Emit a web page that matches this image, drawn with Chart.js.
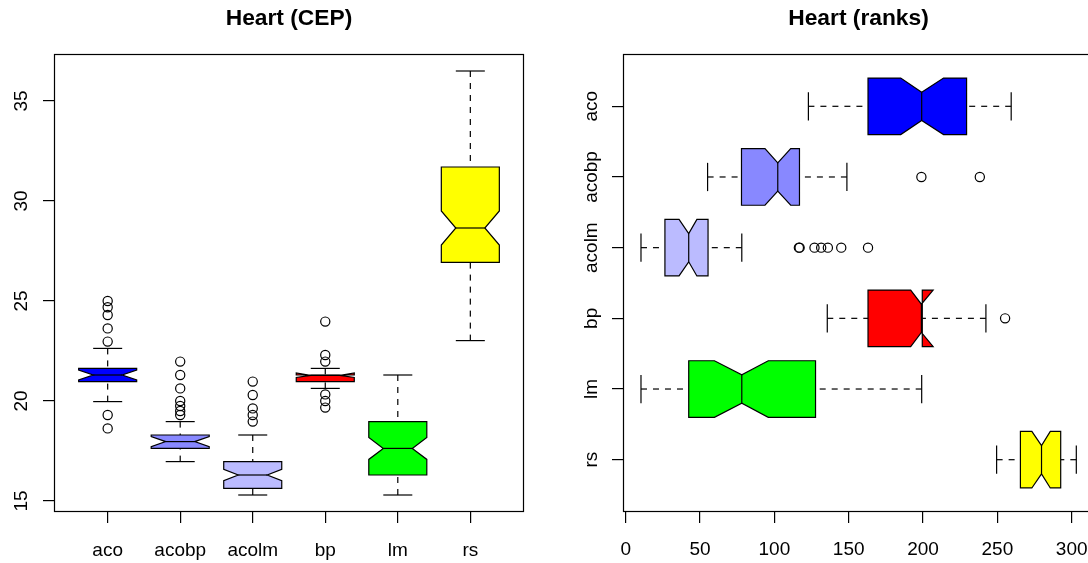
<!DOCTYPE html>
<html>
<head>
<meta charset="utf-8">
<script src="https://cdn.jsdelivr.net/npm/chart.js@4/dist/chart.umd.min.js"></script>
<style>
  html, body { margin: 0; padding: 0; background: #fff; overflow: hidden; width: 1088px; height: 563px; }
  canvas { position: absolute; top: 0; }
  #cep { left: 0; }
  #ranks { left: 544px; }
</style>
</head>
<body>
<canvas id="cep" width="544" height="563"></canvas>
<canvas id="ranks" width="570" height="563"></canvas>
<script>
const methods = ['aco', 'acobp', 'acolm', 'bp', 'lm', 'rs'];
const fills = ['#0000ff', '#8888ff', '#bbbbff', '#ff0000', '#00ff00', '#ffff00'];

// Heart (CEP): whisker ends, hinges, median and notch limits per method
const cepLow = [19.97, 16.97, 15.3, 20.63, 15.3, 23.02];
const cepQ1 = [20.97, 17.63, 15.63, 20.97, 16.3, 26.93];
const cepMedian = [21.3, 17.97, 16.3, 21.28, 17.63, 28.65];
const cepQ3 = [21.63, 18.3, 16.97, 21.3, 18.97, 31.7];
const cepHigh = [22.63, 18.97, 18.3, 21.63, 21.3, 36.5];
const cepNotchLo = [21.05, 17.72, 16.02, 21.18, 17.08, 27.8];
const cepNotchHi = [21.55, 18.22, 16.58, 21.4, 18.18, 29.5];
const cepOutliers = [
  [25.0, 24.69, 24.3, 23.63, 22.97, 19.3, 18.63],
  [21.97, 21.3, 20.63, 20.0, 19.75, 19.5, 19.3],
  [20.97, 20.3, 19.63, 19.3, 18.97],
  [23.97, 22.3, 21.97, 20.33, 20.0, 19.67],
  [],
  []
];
const cepTicks = [15, 20, 25, 30, 35];

// Heart (ranks)
const rankLow = [122.9, 55.1, 10.3, 135.6, 10.3, 249.5];
const rankQ1 = [163, 77.9, 26.4, 163, 42.4, 265.5];
const rankMedian = [199.1, 102.3, 42.4, 198.9, 78.1, 279.7];
const rankQ3 = [229.3, 116.9, 55.4, 199.5, 127.7, 292.6];
const rankHigh = [259.3, 148.8, 78.1, 242.3, 199.1, 303.1];
const rankNotchLo = [185, 93.7, 35.9, 191.7, 59.7, 273.2];
const rankNotchHi = [213.8, 111.0, 47.9, 206.8, 95.9, 285.6];
const rankOutliers = [
  [],
  [198.9, 238.2],
  [116.5, 117, 127, 131.5, 136, 145, 163],
  [255.2],
  [],
  []
];
const rankTicks = [0, 50, 100, 150, 200, 250, 300];

const positions = methods.map((m, i) => i + 1);
const FONT = '"Liberation Sans", Arial, Helvetica, sans-serif';

// notched box + dashed whiskers + staples, drawn through the chart scales
const boxPlugin = (stats, horizontal) => ({
  id: 'notchBoxes',
  beforeDatasetsDraw(chart) {
    const { ctx, scales: { x, y } } = chart;
    const pt = (i, off, v) => horizontal
      ? [x.getPixelForValue(v), y.getPixelForValue(i + off)]
      : [x.getPixelForValue(i + off), y.getPixelForValue(v)];
    const line = (a, b) => {
      ctx.beginPath();
      ctx.moveTo(a[0], a[1]);
      ctx.lineTo(b[0], b[1]);
      ctx.stroke();
    };
    ctx.save();
    ctx.strokeStyle = '#000';
    ctx.lineWidth = 1.2;
    positions.forEach((p, k) => {
      const wid = 0.4;
      // whiskers
      ctx.setLineDash([6, 6]);
      line(pt(p, 0, stats.low[k]), pt(p, 0, stats.q1[k]));
      line(pt(p, 0, stats.high[k]), pt(p, 0, stats.q3[k]));
      ctx.setLineDash([]);
      // staples
      line(pt(p, -wid / 2, stats.low[k]), pt(p, wid / 2, stats.low[k]));
      line(pt(p, -wid / 2, stats.high[k]), pt(p, wid / 2, stats.high[k]));
      // notched box
      const offs = [-1, 1, 1, 0.5, 1, 1, -1, -1, -0.5, -1];
      const vals = [stats.q1[k], stats.q1[k], stats.nlo[k], stats.med[k], stats.nhi[k],
                    stats.q3[k], stats.q3[k], stats.nhi[k], stats.med[k], stats.nlo[k]];
      ctx.beginPath();
      offs.forEach((o, j) => {
        const q = pt(p, o * wid, vals[j]);
        if (j === 0) ctx.moveTo(q[0], q[1]); else ctx.lineTo(q[0], q[1]);
      });
      ctx.closePath();
      ctx.fillStyle = fills[k];
      ctx.fill();
      ctx.stroke();
      // median
      line(pt(p, -wid / 2, stats.med[k]), pt(p, wid / 2, stats.med[k]));
    });
    ctx.restore();
  }
});

// frame, tick labels and title
const textPlugin = (title, xLabels, yLabels, xOff, yOff) => ({
  id: 'rText',
  afterDraw(chart) {
    const { ctx, chartArea: a, scales: { x, y } } = chart;
    ctx.save();
    ctx.strokeStyle = '#000';
    ctx.lineWidth = 1.2;
    ctx.strokeRect(a.left + 0.5, a.top + 0.5, a.right - a.left - 1, a.bottom - a.top - 1);
    ctx.fillStyle = '#000';
    ctx.font = '19px ' + FONT;
    ctx.textAlign = 'center';
    ctx.textBaseline = 'alphabetic';
    xLabels.forEach(([v, t]) => ctx.fillText(t, x.getPixelForValue(v), a.bottom + xOff));
    yLabels.forEach(([v, t]) => {
      ctx.save();
      ctx.translate(a.left - yOff, y.getPixelForValue(v));
      ctx.rotate(-Math.PI / 2);
      ctx.fillText(t, 0, 0);
      ctx.restore();
    });
    ctx.font = 'bold 22.8px ' + FONT;
    ctx.fillText(title, (a.left + a.right) / 2, 25);
    ctx.restore();
  }
});

const axis = (min, max, ticks, fit, reverse) => ({
  type: 'linear',
  min, max, reverse: !!reverse,
  afterBuildTicks: s => { s.ticks = ticks.map(v => ({ value: v })); },
  afterFit: fit,
  grid: { drawOnChartArea: false, drawTicks: true, tickLength: 11, color: '#000', lineWidth: 1.2 },
  border: { display: false },
  ticks: { display: false }
});

const pointStyle = {
  showLine: false,
  pointStyle: 'circle',
  pointRadius: 4.6,
  pointBorderWidth: 1.2,
  pointBorderColor: '#000',
  pointBackgroundColor: 'rgba(0,0,0,0)'
};

const baseOptions = {
  responsive: false,
  animation: false,
  events: [],
  plugins: { legend: { display: false }, tooltip: { enabled: false }, title: { display: false } }
};

new Chart(document.getElementById('cep'), {
  type: 'scatter',
  data: {
    datasets: [{
      data: cepOutliers.flatMap((vs, k) => vs.map(v => ({ x: positions[k], y: v }))),
      ...pointStyle
    }]
  },
  options: {
    ...baseOptions,
    layout: { padding: { top: 54, right: 20, left: 0, bottom: 0 } },
    scales: {
      x: axis(0.26, 6.74, positions, s => { s.height = 51; }),
      y: axis(14.45, 37.35, cepTicks, s => { s.width = 54; })
    }
  },
  plugins: [
    boxPlugin({ low: cepLow, q1: cepQ1, med: cepMedian, q3: cepQ3, high: cepHigh,
                nlo: cepNotchLo, nhi: cepNotchHi }, false),
    textPlugin('Heart (CEP)', positions.map((p, k) => [p, methods[k]]),
               cepTicks.map(v => [v, String(v)]), 43.5, 27.5)
  ]
});

new Chart(document.getElementById('ranks'), {
  type: 'scatter',
  data: {
    datasets: [{
      data: rankOutliers.flatMap((vs, k) => vs.map(v => ({ x: v, y: positions[k] }))),
      ...pointStyle
    }]
  },
  options: {
    ...baseOptions,
    layout: { padding: { top: 54, right: 20, left: 0, bottom: 0 } },
    scales: {
      x: axis(-1.8, 315, rankTicks, s => { s.height = 51; }),
      y: axis(0.26, 6.74, positions, s => { s.width = 79; }, true)
    }
  },
  plugins: [
    boxPlugin({ low: rankLow, q1: rankQ1, med: rankMedian, q3: rankQ3, high: rankHigh,
                nlo: rankNotchLo, nhi: rankNotchHi }, true),
    textPlugin('Heart (ranks)', rankTicks.map(v => [v, String(v)]),
               positions.map((p, k) => [p, methods[k]]), 43, 26.5)
  ]
});
</script>
</body>
</html>
